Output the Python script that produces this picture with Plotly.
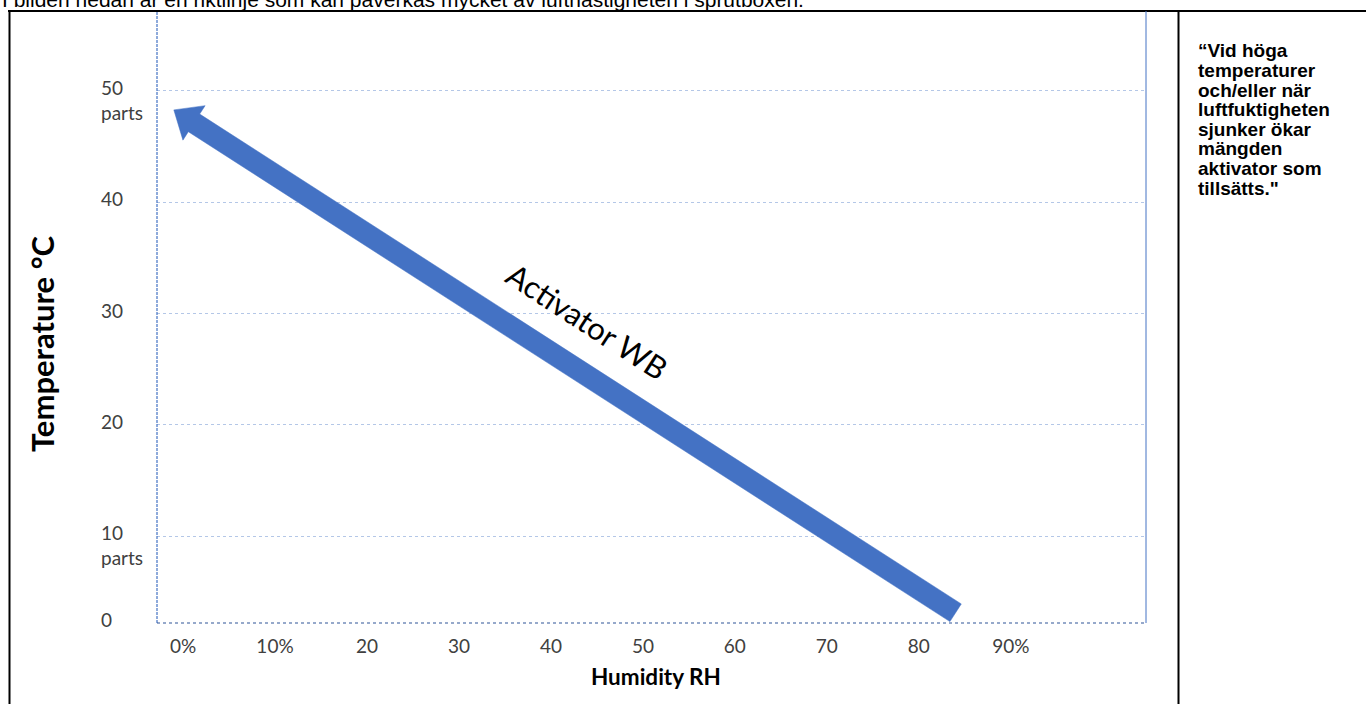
import math
import plotly.graph_objects as go

# ---- data -------------------------------------------------------------
x_ticks = [0, 10, 20, 30, 40, 50, 60, 70, 80, 90]
x_ticktext = ["0%", "10%", "20", "30", "40", "50", "60", "70", "80", "90%"]
y_ticks = [0, 10, 20, 30, 40, 50]
y_ticktext = ["0", "10<br>parts", "20", "30", "40", "50<br>parts"]

# arrow: tail (low temp / high humidity) -> tip (high temp / low humidity)
arrow_humidity = [84.0, -1.0]
arrow_temperature = [3.1, 48.3]
arrow_label = "Activator WB"
label_humidity = 43.9
label_temperature = 29.3

x_title = "Humidity RH"
y_title = "Temperature °C"
heading = "I bilden nedan är en riktlinje som kan påverkas mycket av lufthastigheten i sprutboxen."
side_lines = ["“Vid höga", "temperaturer", "och/eller när", "luftfuktigheten",
              "sjunker ökar", "mängden", "aktivator som", "tillsätts.\""]

# ---- geometry (pixels) -------------------------------------------------
W_, H_ = 1366, 704
L, R, T, B = 157, 1146, 11, 623
PW, PH = R - L, B - T


def px(x):
    return (x - L) / PW


def py(y):
    return (B - y) / PH


X_RANGE = [-2.83, 104.7]
Y_RANGE = [2.18, 57.19]
SX = PW / (X_RANGE[1] - X_RANGE[0])
SY = PH / (Y_RANGE[1] - Y_RANGE[0])

BLUE = "#4472C4"
FONT = "Lato"


def to_px(x, y):
    return L + (x - X_RANGE[0]) * SX, B - (y - Y_RANGE[0]) * SY


def to_data(p, q):
    return X_RANGE[0] + (p - L) / SX, Y_RANGE[0] + (B - q) / SY


# block arrow polygon built in screen space from the data end points
SHAFT_W, HEAD_W, HEAD_L = 21, 41, 24
tail = to_px(arrow_humidity[0], arrow_temperature[0])
tip = to_px(arrow_humidity[1], arrow_temperature[1])
dx, dy = tail[0] - tip[0], tail[1] - tip[1]
ln = math.hypot(dx, dy)
ux, uy = dx / ln, dy / ln
nx, ny = -uy, ux
bc = (tip[0] + ux * HEAD_L, tip[1] + uy * HEAD_L)
poly = [tip,
        (bc[0] + nx * HEAD_W / 2, bc[1] + ny * HEAD_W / 2),
        (bc[0] + nx * SHAFT_W / 2, bc[1] + ny * SHAFT_W / 2),
        (tail[0] + nx * SHAFT_W / 2, tail[1] + ny * SHAFT_W / 2),
        (tail[0] - nx * SHAFT_W / 2, tail[1] - ny * SHAFT_W / 2),
        (bc[0] - nx * SHAFT_W / 2, bc[1] - ny * SHAFT_W / 2),
        (bc[0] - nx * HEAD_W / 2, bc[1] - ny * HEAD_W / 2),
        tip]
poly_data = [to_data(p, q) for p, q in poly]

fig = go.Figure()
fig.add_trace(go.Scatter(x=[p[0] for p in poly_data], y=[p[1] for p in poly_data],
                         mode="lines", fill="toself", fillcolor=BLUE,
                         line=dict(color=BLUE, width=0.5), hoverinfo="skip",
                         showlegend=False, cliponaxis=False))

shapes = []
# table borders
shapes.append(dict(type="line", xref="paper", yref="paper", x0=px(8), x1=px(1372),
                   y0=py(11), y1=py(11), line=dict(color="black", width=2)))
shapes.append(dict(type="line", xref="paper", yref="paper", x0=px(9.5), x1=px(9.5),
                   y0=py(11), y1=py(712), line=dict(color="black", width=2)))
shapes.append(dict(type="line", xref="paper", yref="paper", x0=px(1178.5), x1=px(1178.5),
                   y0=py(11), y1=py(712), line=dict(color="black", width=2)))
# chart frame
shapes.append(dict(type="line", xref="paper", yref="paper", x0=0, x1=0, y0=0, y1=1,
                   line=dict(color=BLUE, width=1.2, dash="3px,1px")))
shapes.append(dict(type="line", xref="paper", yref="paper", x0=0, x1=1, y0=0, y1=0,
                   line=dict(color="#2F5597", width=1.2, dash="dot")))
shapes.append(dict(type="line", xref="paper", yref="paper", x0=1, x1=1, y0=0, y1=1,
                   line=dict(color=BLUE, width=1)))

annotations = []
# heading (clipped at top of page, as in the source)
annotations.append(dict(text=heading, xref="paper", yref="paper", x=px(0), y=py(-1),
                        xanchor="left", yanchor="middle", showarrow=False,
                        font=dict(family="Liberation Sans, Arial", size=21, color="black")))
# side text
for i, line in enumerate(side_lines):
    annotations.append(dict(text="<b>%s</b>" % line, xref="paper", yref="paper",
                            x=px(1196), y=py(51 + 19.6 * i), xanchor="left", yanchor="middle",
                            showarrow=False,
                            font=dict(family="Liberation Sans, Arial", size=19, color="black")))
# y tick labels (left aligned)
for v, t in zip(y_ticks, y_ticktext):
    yv = max(v, Y_RANGE[0])
    annotations.append(dict(text=t, xref="paper", yref="y", x=px(99), y=yv,
                            xanchor="left", yanchor="top", yshift=17, align="left",
                            showarrow=False,
                            font=dict(family=FONT, size=19, color="#404040")))
# axis titles
annotations.append(dict(text="<b>%s</b>" % y_title, xref="paper", yref="paper",
                        x=px(42), y=py(344), xanchor="center", yanchor="middle",
                        textangle=-90, showarrow=False,
                        font=dict(family=FONT, size=31, color="black")))
annotations.append(dict(text="<b>%s</b>" % x_title, xref="paper", yref="paper",
                        x=px(656), y=py(676), xanchor="center", yanchor="middle",
                        showarrow=False,
                        font=dict(family=FONT, size=22.5, color="black")))
annotations.append(dict(text=arrow_label, x=label_humidity, y=label_temperature,
                        xref="x", yref="y", showarrow=False, textangle=33,
                        font=dict(family=FONT, size=31, color="black")))

fig.update_layout(
    width=W_, height=H_,
    margin=dict(l=L, r=W_ - R, t=T, b=H_ - B, pad=0),
    paper_bgcolor="white", plot_bgcolor="white",
    showlegend=False,
    shapes=shapes, annotations=annotations,
    xaxis=dict(range=X_RANGE, tickvals=x_ticks, ticktext=x_ticktext, showgrid=False,
               zeroline=False, showline=False, ticks="", ticklabelstandoff=10,
               tickfont=dict(family=FONT, size=19, color="#404040"), fixedrange=True),
    yaxis=dict(range=Y_RANGE, tickvals=y_ticks[1:], showticklabels=False, showgrid=True,
               gridcolor="#B4C7E7", griddash="dot", gridwidth=1, zeroline=False,
               showline=False, ticks="", fixedrange=True),
)

fig.write_html("out.html", config={"displayModeBar": False},
               post_script="document.body.style.margin='0px';")
